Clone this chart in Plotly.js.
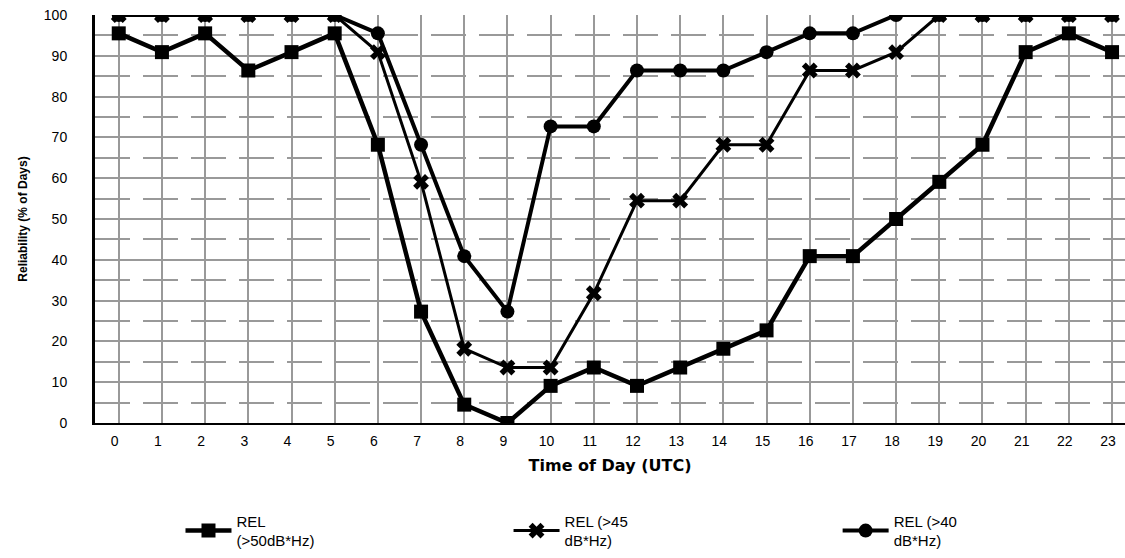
<!DOCTYPE html>
<html>
<head>
<meta charset="utf-8">
<script src="https://cdn.plot.ly/plotly-3.0.1.min.js"></script>
<style>html,body{margin:0;padding:0;background:#fff;}#chart{width:1125px;height:558px;}</style>
</head>
<body>
<div id="chart"></div>
<script>
const hours = [0,1,2,3,4,5,6,7,8,9,10,11,12,13,14,15,16,17,18,19,20,21,22,23];
const tickLabels = hours.map(String);
const rel50 = [95.5,90.9,95.5,86.4,90.9,95.5,68.2,27.3,4.5,0,9.1,13.6,9.1,13.6,18.2,22.7,40.9,40.9,50,59.1,68.2,90.9,95.5,90.9];
const rel45 = [100,100,100,100,100,100,90.9,59.1,18.2,13.6,13.6,31.8,54.5,54.5,68.2,68.2,86.4,86.4,90.9,100,100,100,100,100];
const rel40 = [100,100,100,100,100,100,95.5,68.2,40.9,27.3,72.7,72.7,86.4,86.4,86.4,90.9,95.5,95.5,100,100,100,100,100,100];
const names = ['REL<br>(>50dB*Hz)', 'REL (>45<br>dB*Hz)', 'REL (>40<br>dB*Hz)'];

const traces = [
  {x: hours, y: rel50, name: names[0], type: 'scatter', mode: 'lines+markers', legend: 'legend',
   line: {color: '#000', width: 4.5}, marker: {symbol: 'square', size: 14, color: '#000'}},
  {x: hours, y: rel40, name: names[2], type: 'scatter', mode: 'lines+markers', legend: 'legend3',
   line: {color: '#000', width: 4}, marker: {symbol: 'circle', size: 14, color: '#000'}},
  {x: hours, y: rel45, name: names[1], type: 'scatter', mode: 'lines+markers', legend: 'legend2',
   line: {color: '#000', width: 3}, marker: {symbol: 'x', size: 14, color: '#000'}}
];

const legBase = {orientation: 'v', y: -0.2, xanchor: 'left', yanchor: 'top', itemwidth: 46,
  font: {size: 15, color: '#000'}, valign: 'middle', bgcolor: 'rgba(0,0,0,0)'};

const layout = {
  width: 1125, height: 558,
  margin: {l: 95, r: 0, t: 15, b: 135},
  paper_bgcolor: '#fff', plot_bgcolor: '#fff',
  font: {family: 'Liberation Sans, Arial, sans-serif', size: 14, color: '#000'},
  showlegend: true,
  legend: Object.assign({}, legBase, {x: 0.083}),
  legend2: Object.assign({}, legBase, {x: 0.4015}),
  legend3: Object.assign({}, legBase, {x: 0.721}),
  xaxis: {
    range: [-0.55, 23.3], tickmode: 'array', tickvals: hours, ticktext: tickLabels,
    showgrid: true, gridcolor: '#999', gridwidth: 2, zeroline: false,
    showline: true, linecolor: '#000', linewidth: 2, ticks: '', ticklabelstandoff: 4,
    ticklabelshift: -4,
    tickfont: {size: 14},
    title: {text: 'Time of Day (UTC)', font: {family: 'DejaVu Sans, sans-serif', size: 16, weight: 'bold'}, standoff: 12}
  },
  yaxis: {
    range: [0, 100], tickmode: 'linear', tick0: 0, dtick: 10,
    showgrid: true, gridcolor: '#999', gridwidth: 2, zeroline: false,
    showline: true, linecolor: '#000', linewidth: 3, ticks: '', ticklabelstandoff: 22,
    tickfont: {size: 14},
    minor: {dtick: 5, tick0: 0, showgrid: true, gridcolor: '#999', gridwidth: 2, griddash: '35px,13px', ticks: ''},
    title: {text: 'Reliability (% of Days)', font: {family: 'Liberation Sans, Arial, sans-serif', size: 12, weight: 'bold'}, standoff: 14}
  }
};

Plotly.newPlot('chart', traces, layout, {displayModeBar: false, staticPlot: true});
</script>
</body>
</html>
